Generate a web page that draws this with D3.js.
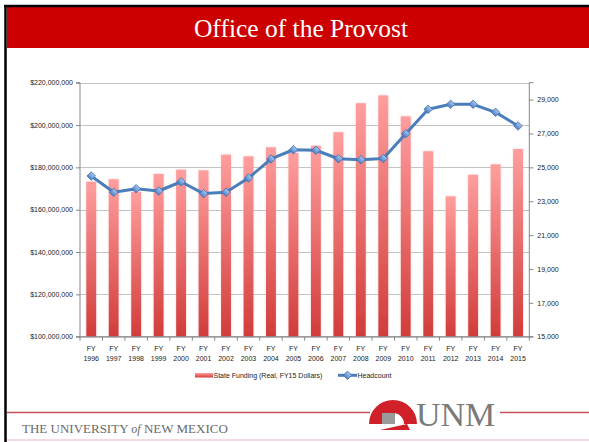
<!DOCTYPE html>
<html><head><meta charset="utf-8">
<script src="https://cdn.jsdelivr.net/npm/d3@7/dist/d3.min.js"></script>
<style>html,body{margin:0;padding:0;background:#fff;}svg{display:block;}</style>
</head><body>
<script>
const years = ["1996","1997","1998","1999","2000","2001","2002","2003","2004","2005","2006","2007","2008","2009","2010","2011","2012","2013","2014","2015"];
const funding = [173.2,174.4,168.5,176.9,178.9,178.6,186.0,185.2,189.5,186.9,190.2,196.6,210.3,214.0,204.1,187.6,166.3,176.5,181.4,188.7].map(v=>v*1e6);
const headcount = [24490,23530,23740,23605,24150,23450,23530,24370,25495,26040,26010,25510,25450,25530,26990,28430,28725,28725,28250,27445];
const leftTicks = [100e6,120e6,140e6,160e6,180e6,200e6,220e6];
const rightTicks = [15000,17000,19000,21000,23000,25000,27000,29000];
const seriesNames = ["State Funding (Real, FY15 Dollars)","Headcount"];

const W=589,H=442;
const svg=d3.select("body").append("svg").attr("width",W).attr("height",H);
const defs=svg.append("defs");
const g1=defs.append("linearGradient").attr("id","barGrad").attr("x1",0).attr("y1",0).attr("x2",0).attr("y2",1);
g1.append("stop").attr("offset","0%").attr("stop-color","#ff9e9e");
g1.append("stop").attr("offset","100%").attr("stop-color","#d13c3a");
const g2=defs.append("linearGradient").attr("id","mkGrad").attr("x1",0).attr("y1",0).attr("x2",0).attr("y2",1);
g2.append("stop").attr("offset","0%").attr("stop-color","#a9c6ee");
g2.append("stop").attr("offset","100%").attr("stop-color","#4f82c8");
const f=defs.append("filter").attr("id","glow").attr("x","-50%").attr("y","-10%").attr("width","200%").attr("height","120%");
f.append("feGaussianBlur").attr("in","SourceAlpha").attr("stdDeviation",1).attr("result","b");
f.append("feFlood").attr("flood-color","#f0b0b0").attr("flood-opacity",0.6);
f.append("feComposite").attr("in2","b").attr("operator","in").attr("result","s");
const fm=f.append("feMerge"); fm.append("feMergeNode").attr("in","s"); fm.append("feMergeNode").attr("in","SourceGraphic");

// frame and title
svg.append("rect").attr("x",7).attr("y",7).attr("width",W-7).attr("height",41).attr("fill","#cc0000");
svg.append("line").attr("x1",4).attr("x2",W).attr("y1",6).attr("y2",6).attr("stroke","#000").attr("stroke-width",2.5);
svg.append("line").attr("x1",5.5).attr("x2",5.5).attr("y1",5).attr("y2",H).attr("stroke","#000").attr("stroke-width",2.5);
svg.append("text").attr("x",301).attr("y",37).attr("text-anchor","middle").attr("fill","#fff")
  .attr("font-family","Liberation Serif, serif").attr("font-size",25.5).text("Office of the Provost");

// chart
const x0=80,x1=529.3,yT=82.7,yB=336.7;
const x=d3.scaleBand().domain(years).range([x0,x1]).paddingInner(0.56).paddingOuter(0.28);
const yL=d3.scaleLinear().domain([100e6,220e6]).range([yB,yT]);
const yR=d3.scaleLinear().domain([15000,30000]).range([yB,yT]);
const font="Liberation Sans, Arial, sans-serif";

// gridlines
svg.append("g").selectAll("line").data(leftTicks).join("line")
  .attr("x1",x0).attr("x2",x1).attr("y1",d=>Math.round(yL(d))+0.5).attr("y2",d=>Math.round(yL(d))+0.5)
  .attr("stroke","#c4c4c4").attr("stroke-width",1);

// bars
svg.append("g").selectAll("rect").data(funding).join("rect")
  .attr("x",(d,i)=>x(years[i])).attr("width",x.bandwidth())
  .attr("y",d=>yL(d)).attr("height",d=>yB-yL(d))
  .attr("fill","url(#barGrad)").attr("filter","url(#glow)");

// axes
const fmtL=d=>"$"+d3.format(",")(d);
const axL=svg.append("g").attr("transform",`translate(${x0},0)`)
  .call(d3.axisLeft(yL).tickValues(leftTicks).tickFormat(fmtL).tickSize(4).tickPadding(3));
const axR=svg.append("g").attr("transform",`translate(${x1},0)`)
  .call(d3.axisRight(yR).tickValues(rightTicks).tickFormat(d3.format(",")).tickSize(4).tickPadding(4));
const axB=svg.append("g").attr("transform",`translate(0,${yB})`)
  .call(d3.axisBottom(x).tickSize(0).tickFormat(""));
[axL,axR,axB].forEach(a=>{
  a.select(".domain").attr("stroke","#868686");
  a.selectAll(".tick line").attr("stroke","#868686");
  a.selectAll("text").attr("font-family",font).attr("font-size",7).attr("fill","#222");
});
axL.select(".domain").attr("d",`M-4,${yT}H0V${yB}H-4`);
axR.select(".domain").attr("d",`M4,${yT}H0V${yB}H4`);
axB.select(".domain").attr("d",`M${x0},0H${x1}`);
// category separator ticks
svg.append("g").selectAll("line").data(d3.range(years.length+1)).join("line")
  .attr("x1",i=>x0+i*((x1-x0)/years.length)).attr("x2",i=>x0+i*((x1-x0)/years.length))
  .attr("y1",yB).attr("y2",yB+4).attr("stroke","#868686");
// x labels
const xl=svg.append("g").selectAll("text").data(years).join("text")
  .attr("x",d=>x(d)+x.bandwidth()/2).attr("text-anchor","middle")
  .attr("font-family",font).attr("font-size",7).attr("fill","#222");
xl.append("tspan").attr("x",d=>x(d)+x.bandwidth()/2).attr("y",350.8).text("FY");
xl.append("tspan").attr("x",d=>x(d)+x.bandwidth()/2).attr("y",360.8).text(d=>d);

// line
const line=d3.line().x((d,i)=>x(years[i])+x.bandwidth()/2).y(d=>yR(d));
svg.append("path").datum(headcount).attr("d",line).attr("fill","none")
  .attr("stroke","#4a7ebb").attr("stroke-width",3).attr("stroke-linejoin","round");
const sym=d3.symbol().type(d3.symbolSquare).size(36);
svg.append("g").selectAll("path").data(headcount).join("path")
  .attr("d",sym).attr("transform",(d,i)=>`translate(${x(years[i])+x.bandwidth()/2},${yR(d)}) rotate(45)`)
  .attr("fill","url(#mkGrad)").attr("stroke","#3f70b0").attr("stroke-width",0.8);

// legend
svg.append("rect").attr("x",195).attr("y",373).attr("width",18).attr("height",4.5).attr("fill","url(#barGrad)");
svg.append("text").attr("x",213.5).attr("y",377.6).attr("font-family",font).attr("font-size",7).attr("fill","#222").text(seriesNames[0]);
svg.append("line").attr("x1",338).attr("x2",357).attr("y1",375.3).attr("y2",375.3).attr("stroke","#4a7ebb").attr("stroke-width",3);
svg.append("path").attr("d",sym).attr("transform","translate(347.5,375.3) rotate(45)").attr("fill","url(#mkGrad)").attr("stroke","#3f70b0").attr("stroke-width",0.8);
svg.append("text").attr("x",357.5).attr("y",377.6).attr("font-family",font).attr("font-size",7).attr("fill","#222").text(seriesNames[1]);

// footer
svg.append("line").attr("x1",7).attr("x2",370).attr("y1",412.5).attr("y2",412.5).attr("stroke","#c9505a").attr("stroke-width",1.5);
svg.append("line").attr("x1",500).attr("x2",W).attr("y1",412.5).attr("y2",412.5).attr("stroke","#c9505a").attr("stroke-width",1.5);
svg.append("line").attr("x1",7).attr("x2",W).attr("y1",440).attr("y2",440).attr("stroke","#e9b8bc").attr("stroke-width",1);
const arc=d3.arc().innerRadius(11).outerRadius(24).startAngle(-Math.PI*0.5).endAngle(Math.PI*0.5);
svg.append("path").attr("d",arc()).attr("transform","translate(393,424)").attr("fill","#d0202a");
svg.append("rect").attr("x",382).attr("y",413).attr("width",13).attr("height",11).attr("fill","#9a9a9a");
svg.append("path").attr("d","M380,430 L407,424 L410,430 Z").attr("fill","#d0202a");
svg.append("text").attr("x",416).attr("y",426).attr("font-family","Liberation Serif, serif").attr("font-size",34).attr("fill","#7a7a7a").text("UNM");
const ft=svg.append("text").attr("x",22).attr("y",433).attr("font-family","Liberation Serif, serif").attr("font-size",13).attr("fill","#6a6a6a");
ft.append("tspan").text("THE UNIVERSITY ");
ft.append("tspan").attr("font-style","italic").attr("font-size",12).text("of");
ft.append("tspan").text(" NEW MEXICO");
</script>
</body></html>
